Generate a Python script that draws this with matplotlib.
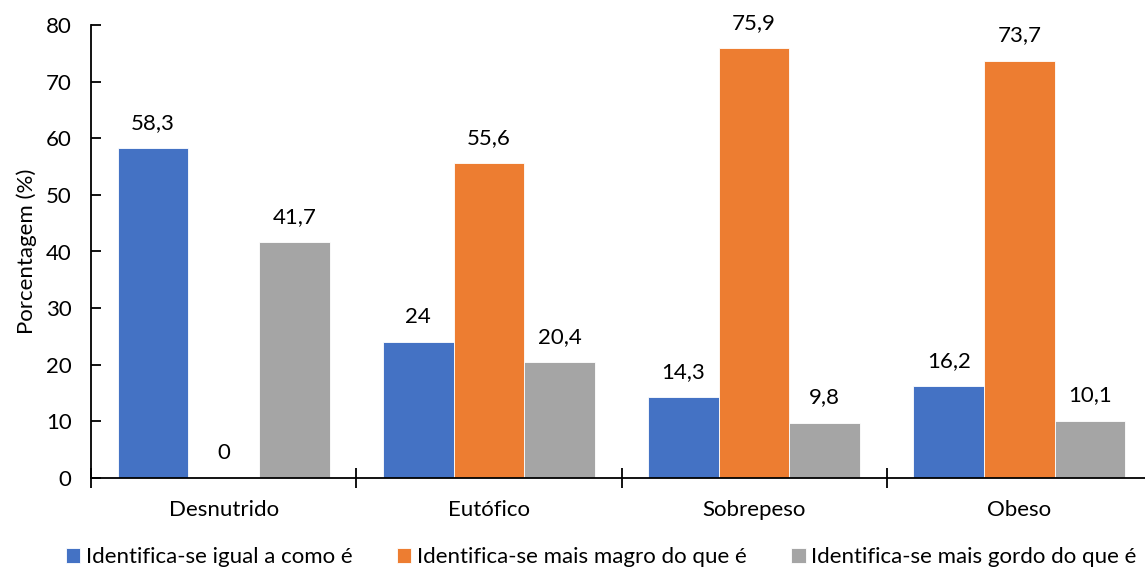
import matplotlib.pyplot as plt
import numpy as np

categories = ['Desnutrido', 'Eutófico', 'Sobrepeso', 'Obeso']
series_names = ['Identifica-se igual a como é',
                'Identifica-se mais magro do que é',
                'Identifica-se mais gordo do que é']
igual = [58.3, 24, 14.3, 16.2]
magro = [0, 55.6, 75.9, 73.7]
gordo = [41.7, 20.4, 9.8, 10.1]
colors = ['#4472C4', '#ED7D31', '#A5A5A5']

plt.rcParams['font.family'] = ['Lato', 'DejaVu Sans']
fs = 16

fig = plt.figure(figsize=(11.45, 5.72), dpi=100)
ax = fig.add_axes([91 / 1145, 94 / 572, 1061 / 1145, 453 / 572])

x = np.arange(len(categories))
w = 0.8 / 3
for i, (vals, name, c) in enumerate(zip([igual, magro, gordo], series_names, colors)):
    pos = x + (i - 1) * w
    ax.bar(pos, vals, width=w, color=c, edgecolor='white', linewidth=0.6, label=name)
    for xp, v in zip(pos, vals):
        lbl = ('%g' % v).replace('.', ',')
        ax.annotate(lbl, (xp, v), xytext=(0, 11), textcoords='offset points',
                    ha='center', va='bottom', fontsize=fs)

ax.set_xlim(-0.5, len(categories) - 0.5)
ax.set_ylim(0, 80)
ax.set_yticks(range(0, 81, 10))
ax.set_xticks(x)
ax.set_xticklabels(categories, fontsize=fs)
ax.tick_params(axis='x', length=0, pad=16)
ax.set_xticks(np.arange(-0.5, len(categories), 1), minor=True)
ax.tick_params(axis='x', which='minor', direction='inout', length=14, width=1.3)
ax.tick_params(axis='y', direction='in', length=7, width=1.3, labelsize=fs, pad=14)
ax.set_ylabel('Porcentagem (%)', fontsize=fs, labelpad=6)

for s in ['top', 'right']:
    ax.spines[s].set_visible(False)
for s in ['left', 'bottom']:
    ax.spines[s].set_linewidth(1.3)

fig.legend(loc='lower center', bbox_to_anchor=(0.525, -0.027), ncol=3, frameon=False,
           fontsize=fs, handlelength=0.65, handleheight=0.65, handletextpad=0.25,
           columnspacing=2.0)

fig.savefig('out.png', dpi=100)
